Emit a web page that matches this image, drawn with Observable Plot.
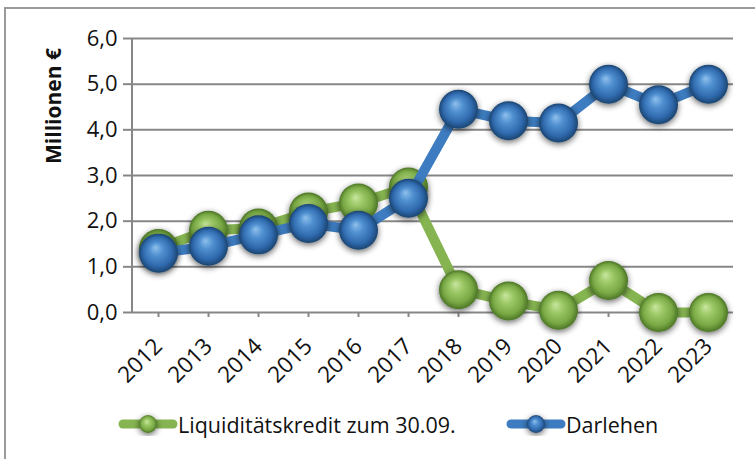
<!DOCTYPE html>
<html>
<head>
<meta charset="utf-8">
<script src="https://cdn.jsdelivr.net/npm/d3@7"></script>
<script src="https://cdn.jsdelivr.net/npm/@observablehq/plot@0.6"></script>
<style>
  html, body { margin: 0; padding: 0; background: #fff; }
  #wrap { position: relative; width: 755px; height: 459px; overflow: hidden; font-family: "Open Sans", sans-serif; }
  #frame { position: absolute; left: 4px; top: 7px; right: -10px; bottom: -10px; border-left: 2px solid #9a9a9a; border-top: 2px solid #9a9a9a; pointer-events: none; }
  #legend { position: relative; height: 50px; font-size: 21.5px; color: #111; }
  .item { position: absolute; top: 9px; display: flex; align-items: center; height: 40px; }
  .item svg { display: block; }
</style>
</head>
<body>
<svg width="0" height="0" style="position:absolute">
  <defs>
    <radialGradient id="ballGreen" cx="50%" cy="50%" r="50%" fx="42%" fy="35%">
      <stop offset="0%" stop-color="#c9e6a0"/>
      <stop offset="35%" stop-color="#9cc866"/>
      <stop offset="75%" stop-color="#78a844"/>
      <stop offset="100%" stop-color="#4c7526"/>
    </radialGradient>
    <radialGradient id="ballBlue" cx="50%" cy="50%" r="50%" fx="42%" fy="35%">
      <stop offset="0%" stop-color="#8fc0ec"/>
      <stop offset="35%" stop-color="#4f8fd0"/>
      <stop offset="75%" stop-color="#2f69ad"/>
      <stop offset="100%" stop-color="#1b446f"/>
    </radialGradient>
    <filter id="ballShadow" x="-40%" y="-40%" width="180%" height="180%">
      <feGaussianBlur in="SourceAlpha" stdDeviation="3"/>
      <feOffset dx="0" dy="2" result="blur"/>
      <feComponentTransfer><feFuncA type="linear" slope="0.6"/></feComponentTransfer>
      <feMerge><feMergeNode/><feMergeNode in="SourceGraphic"/></feMerge>
    </filter>
  </defs>
</svg>
<div id="wrap">
  <div id="chart"></div>
  <div id="legend"></div>
  <div id="frame"></div>
</div>
<script>
// ---- data ----
const years = ["2012","2013","2014","2015","2016","2017","2018","2019","2020","2021","2022","2023"];
const liquiditaetskredit = [1.4, 1.8, 1.85, 2.2, 2.4, 2.75, 0.5, 0.25, 0.05, 0.7, 0.0, 0.0];
const darlehen = [1.3, 1.45, 1.7, 1.95, 1.8, 2.5, 4.45, 4.2, 4.15, 5.0, 4.55, 5.0];
const yTicks = [0, 1, 2, 3, 4, 5, 6];
const seriesNames = ["Liquiditätskredit zum 30.09.", "Darlehen"];
const yLabel = "Millionen €";

const colors = { green: "#85b450", blue: "#3d7cc0" };

const greenData = years.map((y, i) => ({ year: y, value: liquiditaetskredit[i] }));
const blueData = years.map((y, i) => ({ year: y, value: darlehen[i] }));

const fmt = d => d.toFixed(1).replace(".", ",");

const plot = Plot.plot({
  width: 755,
  height: 395,
  marginLeft: 132,
  marginRight: 22,
  marginTop: 38,
  marginBottom: 83,
  style: { fontFamily: "Open Sans, sans-serif", background: "transparent", color: "#111", overflow: "visible" },
  x: { type: "band", domain: years, padding: 0, label: null },
  y: { domain: [0, 6], label: null },
  marks: [
    Plot.gridY(yTicks, { stroke: "#878787", strokeOpacity: 1, strokeWidth: 2 }),
    Plot.axisY(yTicks, { tickFormat: fmt, tickSize: 9, tickPadding: 6, fontSize: 22, label: null }),
    Plot.line(greenData, { x: "year", y: "value", stroke: colors.green, strokeWidth: 10, strokeLinejoin: "miter" }),
    Plot.dot(greenData, { x: "year", y: "value", r: 19.5, fill: "url(#ballGreen)", stroke: "none" }),
    Plot.line(blueData, { x: "year", y: "value", stroke: colors.blue, strokeWidth: 10, strokeLinejoin: "miter" }),
    Plot.dot(blueData, { x: "year", y: "value", r: 19.5, fill: "url(#ballBlue)", stroke: "none" }),
    Plot.axisX({ tickRotate: -45, tickSize: 5, tickPadding: 25, fontSize: 22.5, label: null })
  ]
});

const svg = d3.select(plot);
svg.selectAll('g[aria-label="y-axis tick"] path, g[aria-label="x-axis tick"] path').attr("stroke", "#878787").attr("stroke-width", 2);
svg.selectAll('g[aria-label="y-axis tick label"] text, g[aria-label="x-axis tick label"] text').attr("fill", "#111");
svg.selectAll('g[aria-label="dot"]').attr("filter", "url(#ballShadow)");
const xs = plot.scale("x"), ys = plot.scale("y");
const x0 = xs.range[0], y0 = ys.apply(0), y6 = ys.apply(6);
svg.insert("line", 'g[aria-label="y-axis tick"]')
  .attr("x1", x0).attr("x2", x0).attr("y1", y0).attr("y2", y6)
  .attr("stroke", "#878787").attr("stroke-width", 2);
const xt = svg.select('g[aria-label="x-axis tick"]').node();
const firstLine = svg.select('g[aria-label="line"]').node();
if (xt && firstLine) firstLine.parentNode.insertBefore(xt, firstLine);
svg.append("text")
  .attr("transform", `translate(${x0 - 77},${y6 + 68}) rotate(-90)`)
  .attr("text-anchor", "middle")
  .attr("dominant-baseline", "middle")
  .attr("font-size", 21)
  .attr("font-weight", "bold")
  .attr("fill", "#111")
  .text(yLabel);

document.getElementById("chart").appendChild(plot);

const legend = document.getElementById("legend");
const items = [
  { name: seriesNames[0], color: colors.green, grad: "url(#ballGreen)", left: 118 },
  { name: seriesNames[1], color: colors.blue, grad: "url(#ballBlue)", left: 506 }
];
items.forEach(it => {
  const div = document.createElement("div");
  div.className = "item";
  div.style.left = it.left + "px";
  div.innerHTML = `<svg width="60" height="24"><line x1="5" x2="55" y1="12" y2="12" stroke="${it.color}" stroke-width="9" stroke-linecap="round"/><circle cx="30" cy="12" r="9" fill="${it.grad}" filter="url(#ballShadow)"/></svg><span>${it.name}</span>`;
  legend.appendChild(div);
});
</script>
</body>
</html>
